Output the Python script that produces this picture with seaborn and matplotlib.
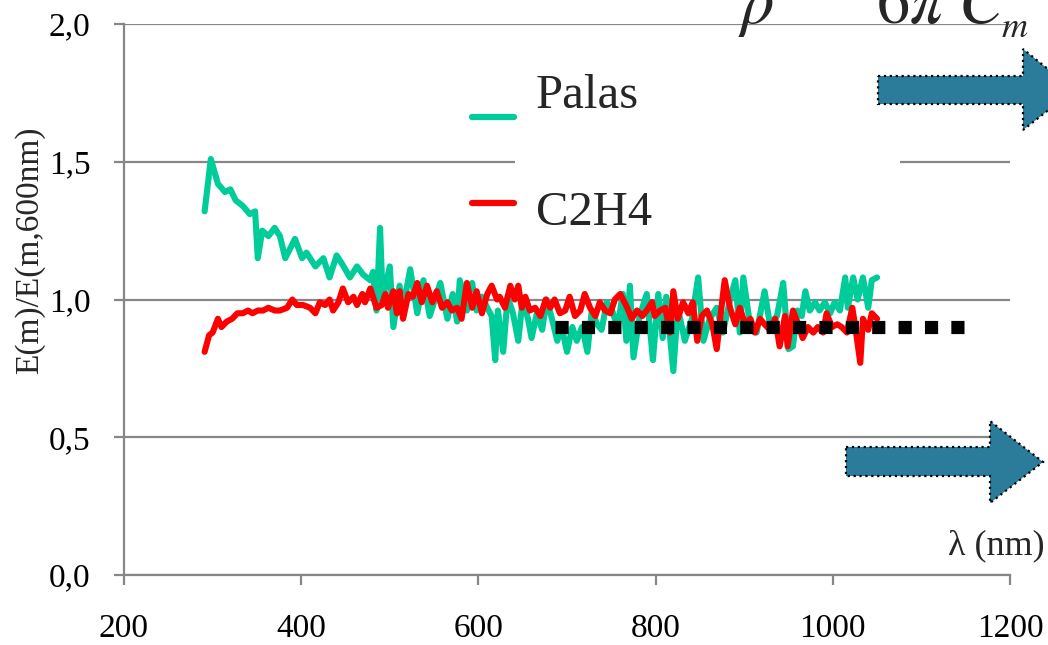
import numpy as np
import pandas as pd
import matplotlib
matplotlib.use("Agg")
import matplotlib.pyplot as plt
from matplotlib.patches import Polygon, Rectangle
from matplotlib.lines import Line2D
from matplotlib.ticker import FuncFormatter
import seaborn as sns

# wavelength (nm) and normalised E(m)
palas_wl = [291, 298, 306, 314, 320, 326, 334, 342, 348, 351, 356, 363, 370, 376,
            382, 393, 401, 406, 416, 425, 432, 440, 446, 455, 463, 470, 478, 481,
            485, 489, 492, 500, 504, 511, 515, 523, 531, 538, 545, 557, 565, 571,
            576, 579, 587, 593, 598, 604, 610, 615, 619, 622, 628, 633, 639, 645,
            650, 656, 660, 666, 672, 677, 683, 689, 694, 700, 706, 711, 717, 723,
            728, 734, 739, 745, 751, 757, 763, 767, 771, 775, 782, 790, 797, 803,
            808, 812, 820, 825, 833, 841, 848, 854, 861, 869, 876, 884, 890, 895,
            899, 907, 914, 923, 929, 937, 944, 950, 955, 960, 965, 969, 974, 980,
            985, 991, 997, 1002, 1008, 1014, 1017, 1023, 1028, 1034, 1040, 1044, 1050]
palas_ratio = [1.32, 1.51, 1.42, 1.39, 1.40, 1.36, 1.34, 1.31, 1.32, 1.15, 1.25, 1.23, 1.26, 1.23,
               1.15, 1.22, 1.15, 1.17, 1.12, 1.15, 1.08, 1.16, 1.13, 1.08, 1.12, 1.09, 1.07, 1.10,
               0.96, 1.26, 1.00, 1.12, 0.90, 1.05, 0.97, 1.11, 0.95, 1.07, 0.94, 1.06, 0.93, 1.02,
               0.92, 1.07, 0.96, 1.06, 0.96, 1.01, 0.97, 0.94, 0.78, 0.96, 0.81, 1.01, 0.95, 0.85,
               1.00, 0.93, 0.86, 0.95, 0.89, 1.00, 0.93, 0.85, 0.90, 0.81, 0.90, 0.85, 0.90, 0.81,
               0.96, 0.91, 0.89, 0.99, 0.96, 0.90, 1.02, 0.85, 1.05, 0.79, 0.94, 1.02, 0.78, 1.02,
               0.86, 1.01, 0.74, 0.97, 0.85, 0.93, 1.08, 0.85, 0.93, 0.97, 0.88, 1.00, 1.07, 0.88,
               1.08, 0.90, 0.88, 1.03, 0.91, 0.94, 1.06, 0.82, 0.83, 0.96, 0.94, 1.03, 0.96, 0.99,
               0.96, 0.99, 0.95, 0.99, 0.96, 1.08, 0.97, 1.08, 1.00, 1.08, 0.97, 1.07, 1.08]

c2h4_wl = [291, 296, 300, 306, 310, 316, 322, 328, 334, 340, 345, 351, 357, 363, 370,
           376, 384, 390, 395, 402, 410, 416, 421, 427, 432, 436, 442, 447, 453, 459,
           463, 469, 472, 478, 485, 491, 495, 498, 504, 508, 511, 515, 521, 526, 531,
           536, 542, 548, 553, 559, 565, 570, 576, 581, 587, 593, 598, 604, 610, 615,
           621, 624, 630, 636, 641, 645, 649, 653, 658, 664, 670, 676, 681, 686, 692,
           698, 703, 709, 715, 720, 726, 732, 737, 743, 749, 754, 760, 768, 773, 779,
           785, 790, 796, 799, 805, 811, 816, 820, 825, 831, 837, 842, 847, 852, 858,
           864, 869, 875, 878, 884, 890, 895, 901, 907, 912, 918, 923, 929, 935, 940,
           946, 949, 955, 961, 966, 972, 978, 983, 989, 993, 999, 1005, 1010, 1016, 1022,
           1025, 1031, 1034, 1040, 1044, 1050]
c2h4_ratio = [0.81, 0.87, 0.88, 0.93, 0.90, 0.92, 0.93, 0.95, 0.95, 0.96, 0.95, 0.96, 0.96, 0.97, 0.96,
              0.96, 0.97, 1.00, 0.98, 0.98, 0.97, 0.95, 0.99, 0.98, 1.00, 0.96, 0.99, 1.04, 0.99, 1.01,
              0.98, 1.02, 0.99, 1.04, 0.97, 0.98, 1.02, 0.97, 1.03, 0.95, 1.03, 0.93, 1.02, 1.01, 1.06,
              0.99, 1.05, 0.99, 1.03, 0.97, 0.99, 0.96, 0.97, 0.93, 1.06, 0.97, 1.03, 0.95, 1.02, 1.05,
              1.00, 1.01, 0.97, 1.05, 1.00, 1.05, 0.97, 1.01, 0.96, 0.97, 0.94, 1.00, 0.97, 1.00, 0.95,
              0.96, 1.01, 0.94, 0.96, 1.02, 0.97, 0.94, 0.99, 0.96, 0.95, 1.00, 1.02, 0.97, 0.93, 0.96,
              0.94, 0.96, 0.99, 0.94, 0.96, 0.97, 0.88, 1.03, 0.93, 0.99, 0.95, 0.99, 0.85, 0.94, 0.96,
              0.91, 0.82, 0.99, 1.07, 0.97, 0.91, 0.97, 0.91, 0.93, 0.88, 0.93, 0.91, 0.89, 0.93, 0.83,
              0.94, 0.83, 0.96, 0.91, 0.86, 0.90, 0.88, 0.90, 0.88, 0.95, 0.90, 0.91, 0.90, 0.88, 0.97,
              0.91, 0.77, 0.93, 0.89, 0.95, 0.93]

ref_wl = [686, 1148]
ref_ratio = [0.9, 0.9]

labels = ["Palas", "C2H4"]
colors = ["#00CC99", "#FF0000"]

df = pd.concat([
    pd.DataFrame({"wl": palas_wl, "ratio": palas_ratio, "sample": "Palas"}),
    pd.DataFrame({"wl": c2h4_wl, "ratio": c2h4_ratio, "sample": "C2H4"}),
], ignore_index=True)

sns.set_theme(style="white")
plt.rcParams["font.family"] = ["Liberation Serif", "DejaVu Serif"]
plt.rcParams["mathtext.fontset"] = "stix"

W, H = 1048, 645
fig = plt.figure(figsize=(W / 100, H / 100), dpi=100)
ax = fig.add_axes([124 / W, 1 - 575 / H, (1010 - 124) / W, (575 - 24) / H])

def fx(x):
    return x / W

def fy(y):
    return 1 - y / H

grey = "#878787"
ax.set_axisbelow(True)
ax.yaxis.grid(True, color=grey, lw=1.6)
ax.xaxis.grid(False)

sns.lineplot(data=df, x="wl", y="ratio", hue="sample", hue_order=labels,
             palette=colors, estimator=None, sort=False, lw=4.4, legend=False, ax=ax)
ax.plot(ref_wl, ref_ratio, color="black", lw=9.5, linestyle=(0, (1, 1)),
        dash_capstyle="butt", zorder=5)

ax.set_xlim(200, 1200)
ax.set_ylim(0, 2.0)
ax.set_xticks([200, 400, 600, 800, 1000, 1200])
ax.set_yticks([0, 0.5, 1.0, 1.5, 2.0])
ax.yaxis.set_major_formatter(FuncFormatter(lambda v, p: f"{v:.1f}".replace(".", ",")))
ax.tick_params(axis="both", direction="out", length=7, width=1.6, color=grey,
               labelsize=24, labelcolor="black", left=True, bottom=True)
ax.tick_params(axis="x", pad=21)
ax.tick_params(axis="y", pad=17)
for s in ["top", "right"]:
    ax.spines[s].set_visible(False)
for s in ["left", "bottom"]:
    ax.spines[s].set_color(grey)
    ax.spines[s].set_linewidth(1.6)

ax.set_xlabel("")
ax.set_ylabel("E(m)/E(m,600nm)", fontsize=24)
ax.yaxis.set_label_coords(-0.089, 0.59)

# white box behind legend area
fig.patches.append(Rectangle((fx(515), fy(180)), fx(900) - fx(515), fy(140) - fy(180),
                             transform=fig.transFigure, facecolor="white",
                             edgecolor="none", zorder=3))

# legend entries
for lab, col, yl, yt in [("Palas", colors[0], 117, 108), ("C2H4", colors[1], 203, 225)]:
    fig.lines.append(Line2D([fx(472), fx(514)], [fy(yl), fy(yl)], color=col, lw=4.5,
                            solid_capstyle="round", transform=fig.transFigure, zorder=6))
    fig.text(fx(536), fy(yt), lab, fontsize=35, ha="left", va="baseline", zorder=6)

# arrows
arrow_col = "#2B7B9B"
top_arrow = [(878, 76), (1023, 76), (1023, 49), (1074, 90), (1023, 130), (1023, 104), (878, 104)]
bot_arrow = [(846, 447), (990, 447), (990, 421), (1043, 462), (990, 503), (990, 476), (846, 476)]
for pts in [top_arrow, bot_arrow]:
    fig.patches.append(Polygon([(fx(a), fy(b)) for a, b in pts], closed=True,
                               transform=fig.transFigure, facecolor=arrow_col,
                               edgecolor="black", lw=1.6, linestyle=":", zorder=7))

# equation fragment (cut at the top edge, as in the source) and axis title
fig.text(fx(738), fy(23), r"$\rho$", fontsize=48, ha="left", va="baseline", zorder=8)
fig.text(fx(876), fy(23), r"$6\pi\ C$", fontsize=48, ha="left", va="baseline", zorder=8)
fig.text(fx(1001), fy(37), r"$m$", fontsize=26, ha="left", va="baseline", zorder=8)
fig.text(fx(1045), fy(554), "λ (nm)", fontsize=26, ha="right", va="baseline", zorder=8)

fig.savefig("out.png", dpi=100)
